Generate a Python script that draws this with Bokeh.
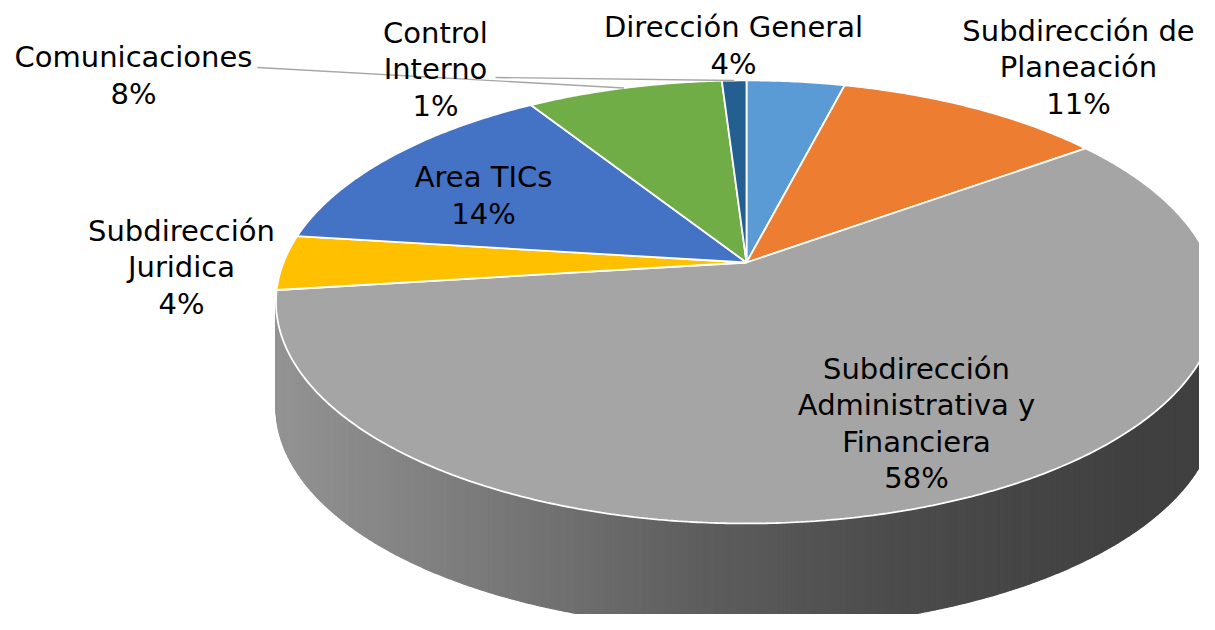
import numpy as np
from bokeh.plotting import figure
from bokeh.models import Range1d
from bokeh.core.properties import value
from bokeh.embed import file_html
from bokeh.resources import INLINE

# ---------------- data ----------------
categories = [
    "Dirección General",
    "Subdirección de Planeación",
    "Subdirección Administrativa y Financiera",
    "Subdirección Juridica",
    "Area TICs",
    "Comunicaciones",
    "Control Interno",
]
label_texts = [
    "Dirección General",
    "Subdirección de\nPlaneación",
    "Subdirección\nAdministrativa y\nFinanciera",
    "Subdirección\nJuridica",
    "Area TICs",
    "Comunicaciones",
    "Control\nInterno",
]
percent = [4, 11, 58, 4, 14, 8, 1]
colors = ["#5B9BD5", "#ED7D31", "#A5A5A5", "#FFC000", "#4472C4", "#70AD47", "#255E91"]

# ---------------- layout (screen pixels) ----------------
CX, CY = 746.0, 262.0      # apex of the pie
AX, BY = 463.0, 214.5      # horizontal / vertical radii
K = 0.178                  # perspective factor
DEPTH = 105.0              # thickness of the pie
label_pos = {
    "Dirección General": (733, 45),
    "Subdirección de Planeación": (1078, 67),
    "Subdirección Administrativa y Financiera": (916, 423),
    "Subdirección Juridica": (181, 267),
    "Area TICs": (483, 195),
    "Comunicaciones": (133, 75),
    "Control Interno": (435, 69),
}
leader_start = {
    "Comunicaciones": (257, 67),
    "Control Interno": (495, 77),
}


def proj(phi_deg, r=1.0):
    ph = np.radians(phi_deg)
    x = r * np.sin(ph)
    y = r * np.cos(ph)
    s = 1.0 / (1.0 + K * y)
    return CX + AX * x * s, CY - BY * y * s


def shade(hex_color, f):
    h = hex_color.lstrip("#")
    r, g, b = (int(h[i:i + 2], 16) for i in (0, 2, 4))
    return "#%02x%02x%02x" % (int(r * f), int(g * f), int(b * f))


total = float(sum(percent))
ends = np.cumsum(percent) / total * 360.0
starts = np.concatenate([[0.0], ends[:-1]])

p = figure(width=1199, height=614, x_range=Range1d(0, 1199), y_range=Range1d(614, 0),
           output_backend="svg", toolbar_location=None, tools="", min_border=0)
p.axis.visible = False
p.grid.visible = False
p.outline_line_color = None
p.background_fill_color = "white"

# ---------------- side of the pie (front, visible part) ----------------
phiR = np.degrees(np.arccos(-K))
phiL = 360.0 - phiR
gx = [270, 500, 700, 900, 1150, 1230]
gf = [0.90, 0.73, 0.57, 0.46, 0.39, 0.39]
sxs, sys_, scol = [], [], []
for a0, a1, col in zip(starts, ends, colors):
    lo, hi = max(a0, phiR), min(a1, phiL)
    if hi <= lo:
        continue
    angs = np.linspace(lo, hi, int((hi - lo) * 3) + 2)
    for t0, t1 in zip(angs[:-1], angs[1:]):
        x0, y0 = proj(t0)
        x1, y1 = proj(t1)
        f = float(np.interp((x0 + x1) / 2, gx, gf))
        c = shade(col, f)
        sxs.append([x0, x1, x1, x0])
        sys_.append([y0, y1, y1 + DEPTH, y0 + DEPTH])
        scol.append(c)
p.patches(sxs, sys_, fill_color=scol, line_color=scol, line_width=1.2)

# ---------------- top face wedges ----------------
wxs, wys = [], []
for a0, a1 in zip(starts, ends):
    angs = np.linspace(a0, a1, max(3, int((a1 - a0) * 2)))
    xs, ys = proj(angs)
    wxs.append([CX] + list(xs))
    wys.append([CY] + list(ys))
p.patches(wxs, wys, fill_color=colors, line_color="white", line_width=1.8)

# ---------------- leader lines ----------------
mids = (starts + ends) / 2
for cat, m in zip(categories, mids):
    if cat in leader_start:
        x0, y0 = leader_start[cat]
        x1, y1 = proj(m)
        p.segment(x0, y0, x1, y1, line_color="#a6a6a6", line_width=1.4)

# ---------------- labels ----------------
lx = [label_pos[c][0] for c in categories]
ly = [label_pos[c][1] for c in categories]
texts = [f"{t}\n{v}%" for t, v in zip(label_texts, percent)]
p.text(lx, ly, text=texts, text_align="center", text_baseline="middle",
       text_font=value("DejaVu Sans"), text_font_size="29px", text_color="#000000",
       text_line_height=1.066)

open("out.html", "w").write(file_html(p, INLINE))
